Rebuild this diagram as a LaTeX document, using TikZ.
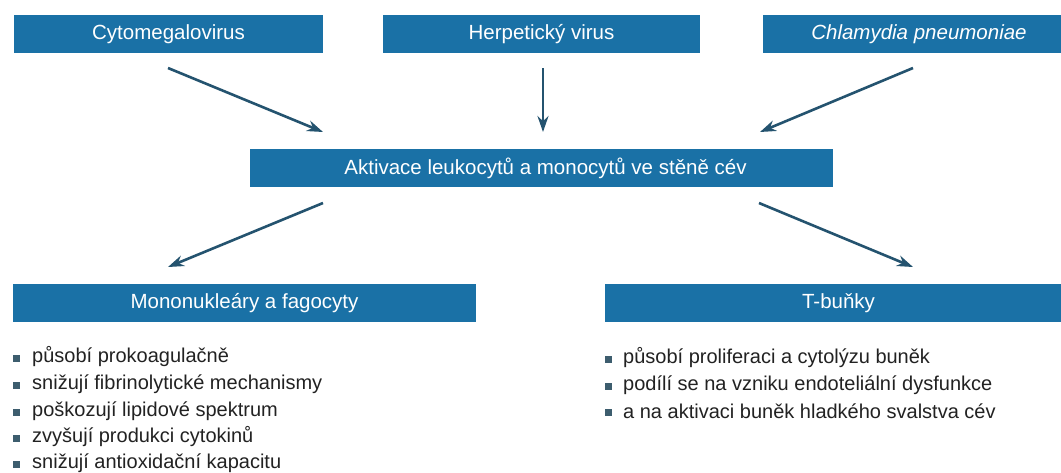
\documentclass[tikz,border=0pt]{standalone}
\usepackage{fontspec}
\setmainfont{Liberation Sans}
\usetikzlibrary{arrows.meta}
\definecolor{boxblue}{HTML}{1A71A6}
\definecolor{arrowblue}{HTML}{24536F}
\definecolor{bulletc}{HTML}{3D5D6E}
\definecolor{txt}{HTML}{222222}
\tikzset{
  box/.style={rectangle, fill=boxblue, draw=none, inner sep=0pt, minimum height=38pt, text=white, font=\fontsize{20.5}{24}\selectfont},
  boxtext/.style={inner sep=0pt, text=white, font=\fontsize{20.5}{24}\selectfont},
  arr/.style={draw=arrowblue, line width=2.6pt, -{Stealth[length=16pt, width=11pt]}},
  item/.style={anchor=west, inner sep=0pt, text=txt, font=\fontsize{20}{24}\selectfont},
  bul/.style={fill=bulletc, draw=none, minimum size=7pt, inner sep=0pt},
}
\begin{document}
\begin{tikzpicture}[x=1pt, y=-1pt]
\useasboundingbox (0,0) rectangle (1061,472);
\fill[white] (0,0) rectangle (1061,472);

% top boxes
\node[box, minimum width=309pt] (cmv) at (168.5,34) {Cytomegalovirus};
\node[box, minimum width=317pt] (hsv) at (541.5,34) {Herpetický virus};
\node[box, minimum width=298pt] (chl) at (912,34) {};
\node[boxtext] (chlt) at (919,34) {\itshape Chlamydia pneumoniae};

% middle box
\node[box, minimum width=583pt] (akt) at (541.5,168) {};
\node[boxtext] (aktt) at (545.5,168) {Aktivace leukocytů a monocytů ve stěně cév};

% lower boxes
\node[box, minimum width=463pt] (mono) at (244.5,303) {Mononukleáry a fagocyty};
\node[box, minimum width=456pt] (tb) at (833,303) {};
\node[boxtext] (tbt) at (838.5,303) {T-buňky};

% arrow end points
\coordinate (c1s) at (168,68);
\coordinate (c1e) at (323,132);
\coordinate (c2s) at (543,68);
\coordinate (c2e) at (543,132);
\coordinate (c3s) at (913,68);
\coordinate (c3e) at (760,132);
\coordinate (c4s) at (323,203);
\coordinate (c4e) at (168,267);
\coordinate (c5s) at (759,203);
\coordinate (c5e) at (913,267);

\draw[arr] (c1s) -- (c1e);
\draw[arr] (c2s) -- (c2e);
\draw[arr] (c3s) -- (c3e);
\draw[arr] (c4s) -- (c4e);
\draw[arr] (c5s) -- (c5e);

% left list
\node[bul] (lb1) at (16,358) {};
\node[item] (l1) at (32,357) {působí prokoagulačně};
\node[bul] (lb2) at (16,385) {};
\node[item] (l2) at (32,384) {snižují fibrinolytické mechanismy};
\node[bul] (lb3) at (16,412) {};
\node[item] (l3) at (32,411) {poškozují lipidové spektrum};
\node[bul] (lb4) at (16,438) {};
\node[item] (l4) at (32,437) {zvyšují produkci cytokinů};
\node[bul] (lb5) at (16,464) {};
\node[item] (l5) at (32,463) {snižují antioxidační kapacitu};

% right list
\node[bul] (rb1) at (608,359) {};
\node[item] (r1) at (623,358) {působí proliferaci a cytolýzu buněk};
\node[bul] (rb2) at (608,386) {};
\node[item] (r2) at (623,385) {podílí se na vzniku endoteliální dysfunkce};
\node[bul] (rb3) at (608,412) {};
\node[item] (r3) at (623,411) {a na aktivaci buněk hladkého svalstva cév};
\end{tikzpicture}
\end{document}
